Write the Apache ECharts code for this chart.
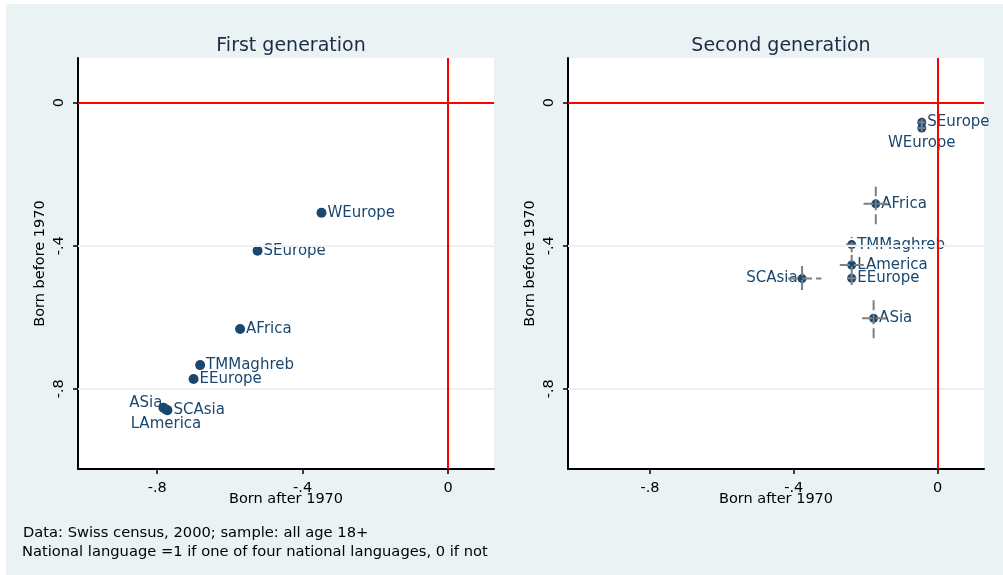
<!DOCTYPE html>
<html>
<head>
<meta charset="utf-8">
<script src="https://cdn.jsdelivr.net/npm/echarts@6/dist/echarts.min.js"></script>
<style>
  html, body { margin: 0; padding: 0; background: #ffffff; }
  #chart { width: 1003px; height: 575px; }
</style>
</head>
<body>
<div id="chart"></div>
<script>
// origin groups, same order in both panels
var groups = ['WEurope', 'SEurope', 'AFrica', 'TMMaghreb', 'EEurope', 'ASia', 'SCAsia', 'LAmerica'];

// first generation (born after 1970 / born before 1970)
var gen1After  = [-0.348, -0.524, -0.572, -0.682, -0.700, -0.783, -0.772, -0.776];
var gen1Before = [-0.308, -0.414, -0.633, -0.734, -0.773, -0.853, -0.860, -0.858];

// second generation, with confidence intervals
var gen2After  = [-0.044, -0.044, -0.172, -0.239, -0.239, -0.178, -0.377, -0.239];
var gen2Before = [-0.071, -0.055, -0.283, -0.397, -0.491, -0.603, -0.492, -0.454];
var gen2AfterLo  = [-0.054, -0.054, -0.206, -0.255, -0.252, -0.210, -0.416, -0.272];
var gen2AfterHi  = [-0.034, -0.034, -0.128, -0.223, -0.226, -0.133, -0.323, -0.198];
var gen2BeforeLo = [-0.080, -0.064, -0.340, -0.418, -0.510, -0.659, -0.524, -0.485];
var gen2BeforeHi = [-0.062, -0.046, -0.235, -0.376, -0.479, -0.547, -0.449, -0.425];

var tickValues = [-0.8, -0.4, 0];

// where each label sits relative to its marker
var gen1LabelPos = ['right', 'right', 'right', 'right', 'right', 'left', 'right', 'bottom'];
var gen2LabelPos = ['bottom', 'right', 'right', 'right', 'right', 'right', 'left', 'right'];

var navy = '#1a476f';
var bg = '#eaf2f3';
var font = 'DejaVu Sans';

function fmt(v) {
  if (Math.abs(v) < 1e-9) return '0';
  return (Math.round(v * 10) / 10).toString().replace('0.', '.');
}

function makeAxes(idx, xmin, xmax) {
  var x = {
    type: 'value', gridIndex: idx, min: xmin, max: xmax,
    name: 'Born after 1970', nameLocation: 'middle', nameGap: 23, nameMoveOverlap: false,
    nameTextStyle: { color: '#000', fontSize: 14.5, fontFamily: font },
    axisLine: { show: true, onZero: false, lineStyle: { color: '#000', width: 2 } },
    axisTick: { show: true, length: 5, customValues: tickValues, lineStyle: { color: '#000', width: 1.5 } },
    axisLabel: { customValues: tickValues, formatter: fmt, margin: 12, color: '#000', fontSize: 14.5, fontFamily: font },
    splitLine: { show: false }
  };
  var y = {
    type: 'value', gridIndex: idx, min: -1.0246, max: 0.125,
    name: 'Born before 1970', nameLocation: 'middle', nameGap: 30, nameRotate: 90, nameMoveOverlap: false,
    nameTextStyle: { color: '#000', fontSize: 14.5, fontFamily: font },
    axisLine: { show: true, onZero: false, lineStyle: { color: '#000', width: 2 } },
    axisTick: { show: true, length: 5, customValues: tickValues, lineStyle: { color: '#000', width: 1.5 } },
    axisLabel: { customValues: tickValues, formatter: fmt, rotate: 90, margin: 11, color: '#000', fontSize: 14.5, fontFamily: font },
    splitLine: { show: false }
  };
  return [x, y];
}

function refSeries(idx) {
  return {
    type: 'scatter', xAxisIndex: idx, yAxisIndex: idx, data: [], z: 1, silent: true,
    markLine: {
      silent: true, symbol: 'none', animation: false,
      label: { show: false },
      data: [
        { yAxis: -0.4, lineStyle: { color: bg, width: 2, type: 'solid' } },
        { yAxis: -0.8, lineStyle: { color: bg, width: 2, type: 'solid' } },
        { yAxis: 0, lineStyle: { color: '#ff0000', width: 2, type: 'solid' } },
        { xAxis: 0, lineStyle: { color: '#ff0000', width: 2, type: 'solid' } }
      ]
    }
  };
}

function pointSeries(idx, xs, ys, pos, size) {
  var data = groups.map(function (g, i) {
    var lab = { position: pos[i] };
    if (g === 'ASia' && idx === 0) { lab.distance = -4; lab.offset = [0, -5]; }
    if (g === 'LAmerica' && idx === 0) { lab.distance = 2; }
    if (g === 'WEurope' && idx === 1) { lab.distance = 3; }
    if (g === 'SCAsia' && idx === 1) { lab.distance = 0; }
    return { name: g, value: [xs[i], ys[i]], label: lab };
  });
  return {
    type: 'scatter', xAxisIndex: idx, yAxisIndex: idx, z: 3,
    symbol: 'circle', symbolSize: size,
    itemStyle: { color: navy, opacity: 1 },
    label: {
      show: true, formatter: '{b}', distance: 1,
      color: navy, fontSize: 15, fontFamily: font
    },
    emphasis: { disabled: true },
    data: data
  };
}

var ciData = groups.map(function (g, i) {
  return [gen2After[i], gen2Before[i], gen2AfterLo[i], gen2AfterHi[i], gen2BeforeLo[i], gen2BeforeHi[i]];
});

var option = {
  backgroundColor: bg,
  animation: false,
  title: [
    { text: 'First generation', left: 286, top: 32, textAlign: 'center',
      textStyle: { color: '#1c2b48', fontSize: 19, fontWeight: 'normal', fontFamily: font } },
    { text: 'Second generation', left: 776, top: 32, textAlign: 'center',
      textStyle: { color: '#1c2b48', fontSize: 19, fontWeight: 'normal', fontFamily: font } }
  ],
  graphic: [
    { type: 'rect', left: 0, top: 0, shape: { width: 1003, height: 4 }, style: { fill: '#ffffff' }, silent: true },
    { type: 'rect', left: 0, top: 0, shape: { width: 6, height: 575 }, style: { fill: '#ffffff' }, silent: true },
    { type: 'text', left: 23, top: 526, style: { text: 'Data: Swiss census, 2000; sample: all age 18+', fill: '#000', fontSize: 14.7, fontFamily: font } },
    { type: 'text', left: 22, top: 545, style: { text: 'National language =1 if one of four national languages, 0 if not', fill: '#000', fontSize: 14.7, fontFamily: font } }
  ],
  grid: [
    { left: 78, top: 58, width: 416, height: 411, show: true, backgroundColor: '#ffffff', borderWidth: 0 },
    { left: 568, top: 58, width: 416, height: 411, show: true, backgroundColor: '#ffffff', borderWidth: 0 }
  ],
  xAxis: [],
  yAxis: [],
  series: [
    refSeries(0),
    refSeries(1),
    pointSeries(0, gen1After, gen1Before, gen1LabelPos, 10),
    pointSeries(1, gen2After, gen2Before, gen2LabelPos, 9),
    {
      type: 'custom', xAxisIndex: 1, yAxisIndex: 1, z: 4, silent: true,
      data: ciData,
      renderItem: function (params, api) {
        var x = api.value(0), y = api.value(1);
        var h0 = api.coord([api.value(2), y]);
        var h1 = api.coord([api.value(3), y]);
        var v0 = api.coord([x, api.value(4)]);
        var v1 = api.coord([x, api.value(5)]);
        var st = { stroke: '#7f7f7f', lineWidth: 2, lineDash: [10, 4] };
        return {
          type: 'group',
          children: [
            { type: 'line', shape: { x1: h0[0], y1: h0[1], x2: h1[0], y2: h1[1] }, style: st },
            { type: 'line', shape: { x1: v0[0], y1: v0[1], x2: v1[0], y2: v1[1] }, style: st }
          ]
        };
      }
    }
  ]
};

var a0 = makeAxes(0, -1.018, 0.1266);
var a1 = makeAxes(1, -1.028, 0.129);
option.xAxis = [a0[0], a1[0]];
option.yAxis = [a0[1], a1[1]];

var chart = echarts.init(document.getElementById('chart'), null, { renderer: 'canvas' });
chart.setOption(option);
</script>
</body>
</html>
